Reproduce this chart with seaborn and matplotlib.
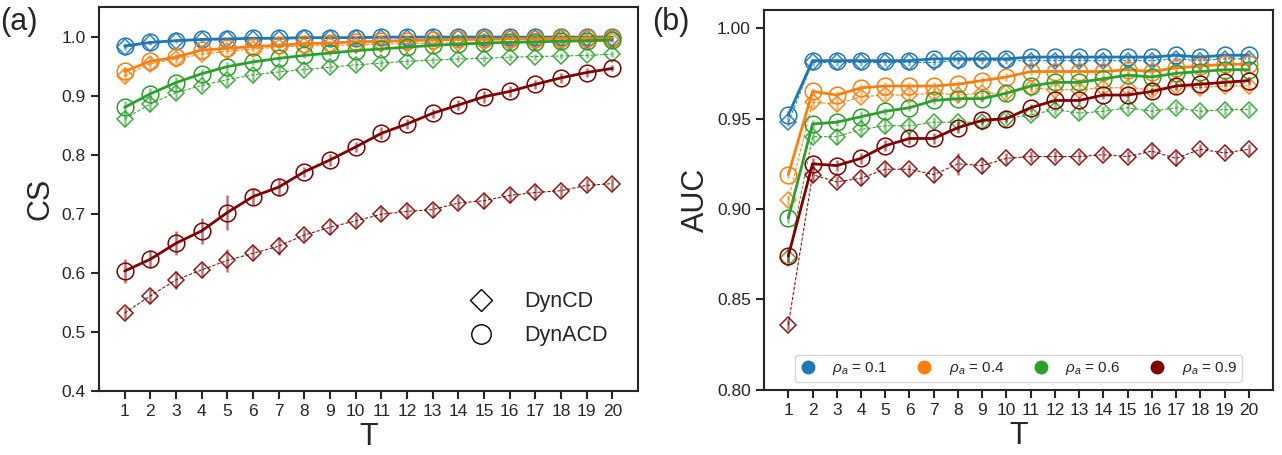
import numpy as np
import pandas as pd
import matplotlib
matplotlib.use("Agg")
import matplotlib.pyplot as plt
from matplotlib.lines import Line2D
import seaborn as sns

T = list(range(1, 21))
rho_values = ['0.1', '0.4', '0.6', '0.9']
colors = ['#1f77b4', '#ff7f0e', '#2ca02c', '#800000']

# (a) CS, DynACD
cs_acd_01 = [0.984, 0.990, 0.993, 0.995, 0.996, 0.997, 0.997, 0.998, 0.998, 0.998,
             0.999, 0.999, 0.999, 0.999, 0.999, 0.999, 0.999, 0.999, 0.999, 0.999]
cs_acd_04 = [0.941, 0.958, 0.965, 0.977, 0.980, 0.983, 0.985, 0.988, 0.989, 0.991,
             0.992, 0.993, 0.994, 0.995, 0.995, 0.996, 0.996, 0.997, 0.997, 0.997]
cs_acd_06 = [0.880, 0.903, 0.922, 0.937, 0.949, 0.957, 0.963, 0.968, 0.972, 0.976,
             0.979, 0.982, 0.985, 0.987, 0.989, 0.990, 0.991, 0.992, 0.993, 0.994]
cs_acd_09 = [0.603, 0.623, 0.650, 0.671, 0.702, 0.729, 0.745, 0.771, 0.791, 0.813,
             0.836, 0.852, 0.870, 0.884, 0.898, 0.907, 0.919, 0.930, 0.939, 0.946]
# (a) CS, DynCD
cs_cd_01 = [0.982, 0.989, 0.992, 0.994, 0.995, 0.996, 0.996, 0.997, 0.997, 0.997,
            0.998, 0.998, 0.998, 0.998, 0.998, 0.998, 0.998, 0.998, 0.998, 0.998]
cs_cd_04 = [0.933, 0.954, 0.962, 0.970, 0.975, 0.979, 0.982, 0.984, 0.985, 0.986,
            0.987, 0.988, 0.989, 0.989, 0.990, 0.990, 0.991, 0.991, 0.991, 0.992]
cs_cd_06 = [0.860, 0.886, 0.905, 0.917, 0.927, 0.935, 0.940, 0.944, 0.948, 0.952,
            0.955, 0.958, 0.960, 0.962, 0.963, 0.965, 0.966, 0.967, 0.968, 0.970]
cs_cd_09 = [0.532, 0.561, 0.588, 0.605, 0.621, 0.633, 0.645, 0.664, 0.677, 0.688,
            0.699, 0.704, 0.707, 0.718, 0.722, 0.731, 0.736, 0.739, 0.748, 0.751]

# (a) error bars
cs_acd_01_err = [0.004, 0.003, 0.003, 0.002, 0.002, 0.002, 0.002, 0.002, 0.002, 0.002,
                 0.001, 0.001, 0.001, 0.001, 0.001, 0.001, 0.001, 0.001, 0.001, 0.001]
cs_acd_04_err = [0.008, 0.007, 0.006, 0.006, 0.005, 0.004, 0.004, 0.004, 0.003, 0.003,
                 0.003, 0.003, 0.002, 0.002, 0.002, 0.002, 0.002, 0.002, 0.002, 0.002]
cs_acd_06_err = [0.010, 0.010, 0.009, 0.008, 0.007, 0.006, 0.006, 0.005, 0.005, 0.004,
                 0.004, 0.004, 0.003, 0.003, 0.003, 0.003, 0.003, 0.003, 0.002, 0.002]
cs_acd_09_err = [0.020, 0.015, 0.020, 0.022, 0.030, 0.015, 0.015, 0.008, 0.010, 0.008,
                 0.010, 0.008, 0.008, 0.008, 0.010, 0.010, 0.008, 0.008, 0.008, 0.005]
cs_cd_01_err = [0.005, 0.004, 0.003, 0.003, 0.003, 0.002, 0.002, 0.002, 0.002, 0.002,
                0.002, 0.002, 0.002, 0.002, 0.002, 0.002, 0.002, 0.002, 0.002, 0.002]
cs_cd_04_err = [0.010, 0.010, 0.008, 0.008, 0.006, 0.006, 0.005, 0.005, 0.005, 0.004,
                0.004, 0.004, 0.004, 0.004, 0.004, 0.004, 0.003, 0.003, 0.003, 0.003]
cs_cd_06_err = [0.012, 0.012, 0.010, 0.010, 0.010, 0.010, 0.009, 0.008, 0.008, 0.008,
                0.007, 0.006, 0.006, 0.006, 0.006, 0.006, 0.005, 0.005, 0.005, 0.005]
cs_cd_09_err = [0.010, 0.012, 0.015, 0.012, 0.020, 0.012, 0.015, 0.010, 0.012, 0.010,
                0.012, 0.012, 0.012, 0.010, 0.012, 0.012, 0.012, 0.010, 0.010, 0.010]

# (b) AUC, DynACD
auc_acd_01 = [0.952, 0.982, 0.982, 0.982, 0.982, 0.982, 0.983, 0.983, 0.983, 0.983,
              0.984, 0.984, 0.984, 0.984, 0.984, 0.984, 0.985, 0.984, 0.985, 0.985]
auc_acd_04 = [0.919, 0.965, 0.963, 0.967, 0.968, 0.968, 0.968, 0.969, 0.971, 0.973,
              0.976, 0.976, 0.976, 0.976, 0.977, 0.976, 0.978, 0.979, 0.980, 0.980]
auc_acd_06 = [0.895, 0.947, 0.948, 0.951, 0.954, 0.956, 0.960, 0.961, 0.961, 0.964,
              0.968, 0.970, 0.970, 0.972, 0.974, 0.973, 0.975, 0.976, 0.977, 0.977]
auc_acd_09 = [0.874, 0.925, 0.924, 0.928, 0.935, 0.939, 0.939, 0.945, 0.949, 0.950,
              0.956, 0.960, 0.960, 0.963, 0.963, 0.965, 0.968, 0.969, 0.970, 0.971]
# (b) AUC, DynCD
auc_cd_01 = [0.948, 0.981, 0.981, 0.981, 0.981, 0.981, 0.981, 0.982, 0.982, 0.982,
             0.982, 0.982, 0.982, 0.982, 0.982, 0.982, 0.983, 0.982, 0.983, 0.983]
auc_cd_04 = [0.905, 0.959, 0.958, 0.962, 0.963, 0.963, 0.964, 0.963, 0.964, 0.964,
             0.967, 0.966, 0.966, 0.967, 0.967, 0.966, 0.968, 0.967, 0.968, 0.968]
auc_cd_06 = [0.873, 0.940, 0.940, 0.944, 0.946, 0.946, 0.948, 0.948, 0.948, 0.950,
             0.952, 0.955, 0.953, 0.954, 0.956, 0.954, 0.956, 0.954, 0.955, 0.955]
auc_cd_09 = [0.836, 0.919, 0.915, 0.917, 0.922, 0.922, 0.919, 0.925, 0.924, 0.928,
             0.929, 0.929, 0.929, 0.930, 0.929, 0.932, 0.928, 0.933, 0.931, 0.933]

# (b) error bars
auc_acd_01_err = [0.002, 0.001, 0.001, 0.001, 0.001, 0.001, 0.001, 0.001, 0.001, 0.001,
                  0.001, 0.001, 0.001, 0.001, 0.001, 0.001, 0.001, 0.001, 0.001, 0.001]
auc_acd_04_err = [0.002, 0.002, 0.002, 0.002, 0.002, 0.002, 0.002, 0.002, 0.002, 0.002,
                  0.002, 0.002, 0.002, 0.002, 0.002, 0.002, 0.002, 0.002, 0.002, 0.002]
auc_acd_06_err = [0.003, 0.002, 0.002, 0.003, 0.002, 0.002, 0.002, 0.002, 0.002, 0.002,
                  0.002, 0.002, 0.002, 0.002, 0.002, 0.002, 0.002, 0.002, 0.002, 0.002]
auc_acd_09_err = [0.004, 0.003, 0.003, 0.003, 0.003, 0.003, 0.003, 0.003, 0.002, 0.002,
                  0.002, 0.002, 0.002, 0.002, 0.002, 0.002, 0.002, 0.002, 0.002, 0.002]
auc_cd_01_err = [0.002, 0.002, 0.002, 0.002, 0.002, 0.002, 0.002, 0.002, 0.002, 0.002,
                 0.002, 0.002, 0.002, 0.002, 0.002, 0.002, 0.002, 0.002, 0.002, 0.002]
auc_cd_04_err = [0.003, 0.003, 0.003, 0.003, 0.003, 0.003, 0.003, 0.003, 0.003, 0.003,
                 0.003, 0.003, 0.003, 0.003, 0.003, 0.003, 0.003, 0.003, 0.003, 0.003]
auc_cd_06_err = [0.003, 0.003, 0.004, 0.004, 0.004, 0.004, 0.003, 0.003, 0.003, 0.003,
                 0.003, 0.003, 0.003, 0.003, 0.003, 0.003, 0.003, 0.003, 0.003, 0.003]
auc_cd_09_err = [0.003, 0.004, 0.003, 0.004, 0.004, 0.003, 0.004, 0.006, 0.004, 0.003,
                 0.003, 0.003, 0.003, 0.003, 0.003, 0.004, 0.004, 0.003, 0.003, 0.003]


def build_frame(acd, cd, acd_err, cd_err):
    rows = []
    for rho, a, c, ae, ce in zip(rho_values, acd, cd, acd_err, cd_err):
        for t, v, e in zip(T, a, ae):
            rows.append({'T': t, 'value': v, 'err': e, 'rho': rho, 'method': 'DynACD'})
        for t, v, e in zip(T, c, ce):
            rows.append({'T': t, 'value': v, 'err': e, 'rho': rho, 'method': 'DynCD'})
    return pd.DataFrame(rows)


df_cs = build_frame([cs_acd_01, cs_acd_04, cs_acd_06, cs_acd_09],
                    [cs_cd_01, cs_cd_04, cs_cd_06, cs_cd_09],
                    [cs_acd_01_err, cs_acd_04_err, cs_acd_06_err, cs_acd_09_err],
                    [cs_cd_01_err, cs_cd_04_err, cs_cd_06_err, cs_cd_09_err])
df_auc = build_frame([auc_acd_01, auc_acd_04, auc_acd_06, auc_acd_09],
                     [auc_cd_01, auc_cd_04, auc_cd_06, auc_cd_09],
                     [auc_acd_01_err, auc_acd_04_err, auc_acd_06_err, auc_acd_09_err],
                     [auc_cd_01_err, auc_cd_04_err, auc_cd_06_err, auc_cd_09_err])

sns.set_theme(style="ticks")
plt.rcParams['font.family'] = ['Liberation Sans', 'DejaVu Sans']
plt.rcParams['mathtext.fontset'] = 'custom'
plt.rcParams['mathtext.it'] = 'Liberation Sans:italic'
plt.rcParams['mathtext.rm'] = 'Liberation Sans'

fig = plt.figure(figsize=(12.82, 4.55), dpi=100)
ax_a = fig.add_axes([0.0772, 0.1407, 0.4204, 0.844])
ax_b = fig.add_axes([0.596, 0.143, 0.397, 0.835])


def draw_panel(ax, df):
    for rho, color in zip(rho_values, colors):
        for method in ['DynCD', 'DynACD']:
            sub = df[(df['rho'] == rho) & (df['method'] == method)]
            if method == 'DynACD':
                style = dict(marker='o', markersize=12, linewidth=2.0, linestyle='-')
            else:
                style = dict(marker='D', markersize=8.5, linewidth=0.8,
                             linestyle=(0, (3, 1.5)), alpha=0.9)
            ax.errorbar(sub['T'], sub['value'], yerr=sub['err'], fmt='none',
                        ecolor=color, elinewidth=1.8, alpha=0.55, capsize=0)
            sns.lineplot(data=sub, x='T', y='value', ax=ax, color=color,
                         errorbar=None, markerfacecolor='none',
                         markeredgecolor=color, markeredgewidth=1.1, **style)
    ax.set_xlim(0, 21)
    ax.set_xticks(T)
    ax.tick_params(axis='both', labelsize=12.5, length=6, width=1.5)
    for s in ax.spines.values():
        s.set_linewidth(1.5)
        s.set_color('#262626')
    ax.set_xlabel('T', fontsize=22, labelpad=2)


draw_panel(ax_a, df_cs)
ax_a.set_ylim(0.4, 1.05)
ax_a.set_yticks([0.4, 0.5, 0.6, 0.7, 0.8, 0.9, 1.0])
ax_a.set_yticklabels(['0.4', '0.5', '0.6', '0.7', '0.8', '0.9', '1.0'])
ax_a.set_ylabel('CS', fontsize=22)

draw_panel(ax_b, df_auc)
ax_b.set_ylim(0.8, 1.01)
ax_b.set_yticks([0.80, 0.85, 0.90, 0.95, 1.00])
ax_b.set_yticklabels(['0.80', '0.85', '0.90', '0.95', '1.00'])
ax_b.set_ylabel('AUC', fontsize=22)

method_handles = [
    Line2D([], [], marker='D', markersize=11, linestyle='none',
           markerfacecolor='none', markeredgecolor='black', markeredgewidth=1.0),
    Line2D([], [], marker='o', markersize=14, linestyle='none',
           markerfacecolor='none', markeredgecolor='black', markeredgewidth=1.0),
]
ax_a.legend(method_handles, ['DynCD', 'DynACD'], loc='lower right',
            bbox_to_anchor=(0.98, 0.066), frameon=False, fontsize=15.5,
            handletextpad=1.0, labelspacing=0.6)

rho_handles = [Line2D([], [], marker='o', markersize=9, linestyle='none',
                      markerfacecolor=c, markeredgecolor=c) for c in colors]
ax_b.legend(rho_handles, [r'$\rho_a$ = ' + r for r in rho_values], loc='lower center',
            ncol=4, fontsize=11, frameon=True, handlelength=1.0, handletextpad=1.1,
            columnspacing=1.9, borderpad=0.35, borderaxespad=0.5)

fig.text(0.0, 0.985, '(a)', fontsize=22, va='top', ha='left')
fig.text(0.509, 0.985, '(b)', fontsize=22, va='top', ha='left')

fig.savefig('out.png', dpi=100)
